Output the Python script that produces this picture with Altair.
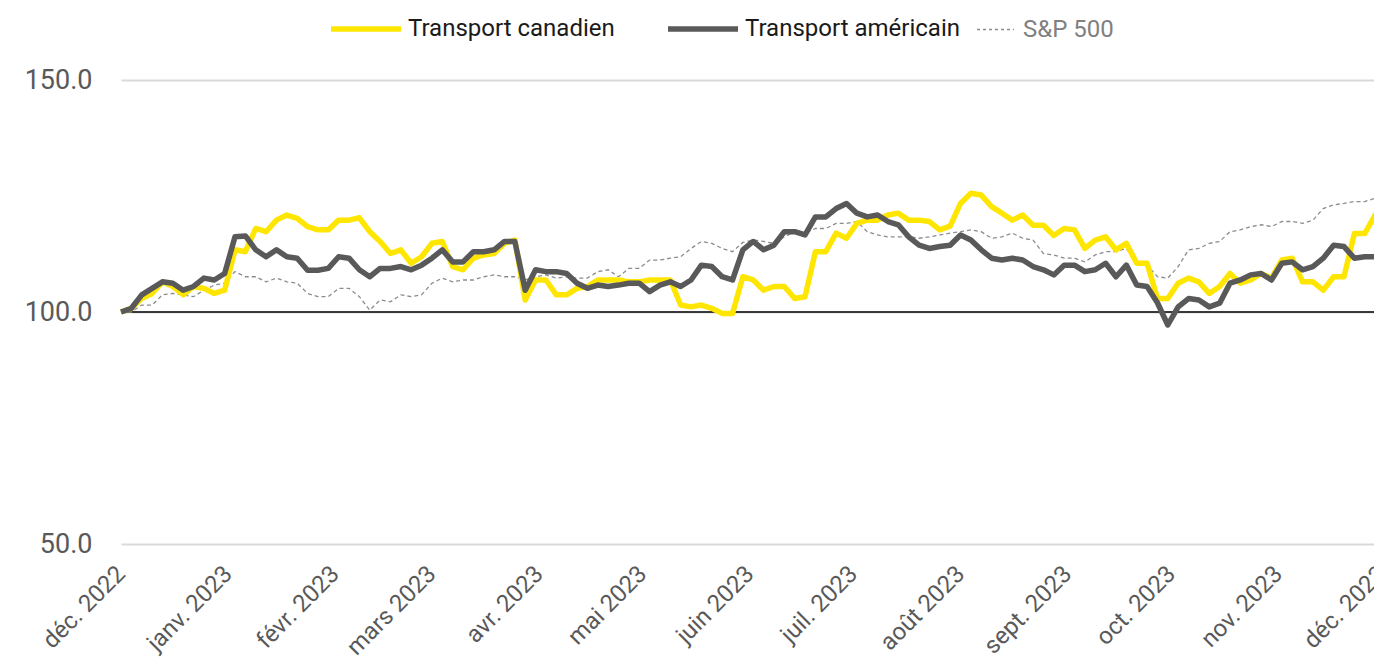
import altair as alt
import pandas as pd

# x positions: every third day from 1 Dec 2022, plus 1 Dec 2023
dates = list(pd.date_range("2022-12-01", periods=122, freq="3D").strftime("%Y-%m-%dT00:00:00")) + ["2023-12-01T00:00:00"]

canada = [
    100.0, 100.8, 102.9, 104.0, 106.5, 105.5, 103.7, 105.5, 105.1, 104.0,
    104.7, 113.4, 113.0, 118.0, 117.3, 119.8, 120.9, 120.2, 118.4, 117.7,
    117.7, 119.8, 119.8, 120.3, 117.3, 115.2, 112.6, 113.4, 110.5, 111.9,
    114.8, 115.2, 109.8, 109.1, 111.6, 112.3, 112.6, 114.8, 115.5, 102.6,
    106.9, 106.9, 103.7, 103.7, 105.1, 105.5, 106.9, 106.9, 106.9, 106.5,
    106.5, 106.9, 106.9, 106.9, 101.5, 101.1, 101.5, 100.8, 99.7, 99.7,
    107.6, 106.9, 104.7, 105.5, 105.5, 102.9, 103.3, 113.0, 113.0, 117.0,
    115.9, 119.1, 119.8, 119.8, 120.9, 121.3, 119.8, 119.8, 119.5, 117.7,
    118.5, 123.4, 125.6, 125.2, 122.7, 121.3, 119.8, 120.9, 118.7, 118.7,
    116.5, 118.0, 117.7, 113.7, 115.5, 116.2, 113.4, 114.8, 110.5, 110.5,
    102.9, 102.9, 106.2, 107.3, 106.5, 104.0, 105.5, 108.3, 106.2, 106.9,
    108.3, 107.3, 111.2, 111.6, 106.5, 106.5, 104.7, 107.6, 107.6, 116.9,
    116.9, 120.9, 120.2,
]

usa = [
    100.0, 100.8, 103.7, 105.1, 106.5, 106.2, 104.7, 105.5, 107.3, 106.9,
    108.3, 116.2, 116.4, 113.4, 111.9, 113.4, 111.9, 111.6, 109.0, 109.0,
    109.4, 111.9, 111.6, 109.1, 107.6, 109.4, 109.4, 109.8, 109.1, 110.1,
    111.6, 113.4, 110.8, 110.8, 113.0, 113.0, 113.4, 115.2, 115.2, 104.7,
    109.1, 108.7, 108.7, 108.3, 106.2, 105.1, 105.8, 105.5, 105.8, 106.2,
    106.2, 104.4, 105.8, 106.5, 105.5, 106.9, 110.1, 109.8, 107.6, 106.9,
    113.4, 115.2, 113.4, 114.4, 117.3, 117.3, 116.6, 120.5, 120.5, 122.3,
    123.4, 121.3, 120.5, 120.9, 119.5, 118.8, 116.2, 114.4, 113.7, 114.1,
    114.4, 116.6, 115.5, 113.4, 111.6, 111.2, 111.6, 111.2, 109.8, 109.1,
    108.0, 110.1, 110.1, 108.7, 109.1, 110.5, 107.6, 110.1, 105.8, 105.5,
    102.0, 97.2, 101.1, 102.9, 102.6, 101.1, 101.9, 106.2, 106.9, 108.0,
    108.3, 106.9, 110.5, 110.8, 109.1, 109.8, 111.6, 114.4, 114.1, 111.6,
    111.9, 111.9, 111.2,
]

sp500 = [
    100.0, 100.0, 101.5, 101.5, 103.7, 104.0, 103.7, 103.3, 104.7, 105.8,
    106.2, 108.7, 107.6, 107.6, 106.5, 107.3, 106.5, 106.2, 104.0, 103.3,
    103.3, 105.1, 105.1, 103.3, 100.4, 102.6, 102.2, 103.7, 103.3, 103.7,
    106.2, 107.3, 106.5, 106.9, 106.9, 107.6, 108.0, 107.6, 107.6, 106.9,
    107.6, 108.0, 107.3, 107.6, 107.3, 107.3, 108.7, 109.1, 107.6, 109.4,
    109.4, 111.2, 111.2, 111.6, 111.9, 113.7, 115.2, 114.8, 113.7, 113.0,
    115.0, 115.5, 115.2, 114.8, 116.2, 117.3, 117.0, 118.0, 118.0, 119.1,
    119.1, 119.5, 117.3, 116.6, 116.2, 116.2, 116.2, 115.9, 116.2, 116.6,
    117.0, 117.3, 117.7, 117.3, 115.9, 116.2, 117.0, 115.9, 115.5, 112.6,
    112.3, 111.6, 111.6, 110.8, 112.3, 113.0, 113.0, 113.7, 110.1, 110.1,
    107.6, 107.3, 109.8, 113.4, 113.7, 114.8, 115.2, 117.3, 117.7, 118.4,
    118.8, 118.4, 119.5, 119.5, 119.1, 119.8, 122.3, 123.1, 123.4, 123.8,
    123.8, 124.5, 124.1,
]

transport_names = ["Transport canadien", "Transport américain"]
index_names = ["S&P 500"]
transport_colors = ["#FFE600", "#595959"]
index_colors = ["#8c8c8c"]

months_fr = ["janv.", "févr.", "mars", "avr.", "mai", "juin", "juil.",
             "août", "sept.", "oct.", "nov.", "déc."]
y_ticks = [50, 100, 150]
y_domain = [50, 150]
baseline = [100]

rows = []
for name, vals in zip(transport_names + index_names, [canada, usa, sp500]):
    for d, v in zip(dates, vals):
        rows.append({"date": d, "value": v, "series": name})
df = pd.DataFrame(rows)

x_ticks = [alt.DateTime(year=2022, month=12, date=1)] + [
    alt.DateTime(year=2023, month=m, date=1) for m in range(1, 13)
]
label_expr = "[" + ",".join("'" + m + "'" for m in months_fr) + "][month(datum.value)] + ' ' + year(datum.value)"

FONT = "Roboto"
FS = 24

x_enc = alt.X(
    "date:T",
    scale=alt.Scale(domain=[alt.DateTime(year=2022, month=12, date=1),
                            alt.DateTime(year=2023, month=12, date=1)]),
    axis=alt.Axis(values=x_ticks, labelExpr=label_expr, labelAngle=-45,
                  labelAlign="right", labelBaseline="middle", grid=False,
                  domain=False, ticks=False, labelPadding=26, labelFont=FONT,
                  labelFontSize=FS, labelColor="#595959", labelOverlap=False,
                  labelBound=False, labelFlush=False, title=None),
)
y_scale = alt.Scale(domain=y_domain, zero=False, nice=False)
y_enc = alt.Y(
    "value:Q",
    scale=y_scale,
    axis=alt.Axis(values=y_ticks, format=".1f", grid=True, gridColor="#d9d9d9",
                  gridWidth=2, domain=False, ticks=False, labelPadding=29,
                  labelFont=FONT, labelFontSize=27, labelColor="#595959",
                  title=None),
)

legend_transport = alt.Legend(
    orient="none", legendX=207, legendY=-89, direction="horizontal", columns=2,
    title=None, symbolType="stroke", symbolSize=4900, symbolStrokeWidth=5.5,
    labelFont=FONT, labelFontSize=FS, labelOffset=4, columnPadding=42,
    labelColor="#1a1a1a", labelLimit=500,
)
legend_index = alt.Legend(
    orient="none", legendX=855, legendY=-70, direction="horizontal",
    title=None, symbolType="stroke", symbolSize=1369, symbolStrokeWidth=1.3,
    symbolDash=[3, 3], labelFont=FONT, labelFontSize=FS, labelOffset=8,
    labelColor="#808080", labelLimit=500,
)

base = alt.Chart(df).encode(x=x_enc, y=y_enc)

transport_color = alt.Color(
    "series:N", scale=alt.Scale(domain=transport_names, range=transport_colors),
    legend=legend_transport,
)
index_color = alt.Color(
    "series:N", scale=alt.Scale(domain=index_names, range=index_colors),
    legend=legend_index,
)

sp_layer = base.transform_filter(alt.datum.series == "S&P 500").mark_line(
    strokeWidth=1.3, strokeDash=[4, 3]
).encode(color=index_color)

ca_layer = base.transform_filter(alt.datum.series == "Transport canadien").mark_line(
    strokeWidth=5.5, strokeJoin="round"
).encode(color=transport_color)
us_layer = base.transform_filter(alt.datum.series == "Transport américain").mark_line(
    strokeWidth=5.5, strokeJoin="round"
).encode(color=transport_color)
transport_layers = alt.layer(ca_layer, us_layer)

rule = alt.Chart(pd.DataFrame({"value": baseline})).mark_rule(
    color="black", strokeWidth=1.3
).encode(y=alt.Y("value:Q", scale=y_scale))

chart = alt.layer(rule, sp_layer, transport_layers).resolve_scale(
    color="independent"
).resolve_legend(color="independent").properties(
    width=1261, height=464,
    autosize=alt.AutoSizeParams(type="none"),
    padding={"left": 113, "top": 72, "right": -8, "bottom": 115},
).configure_view(stroke=None)

chart.save("out.html", embed_options={"renderer": "svg", "actions": False})
